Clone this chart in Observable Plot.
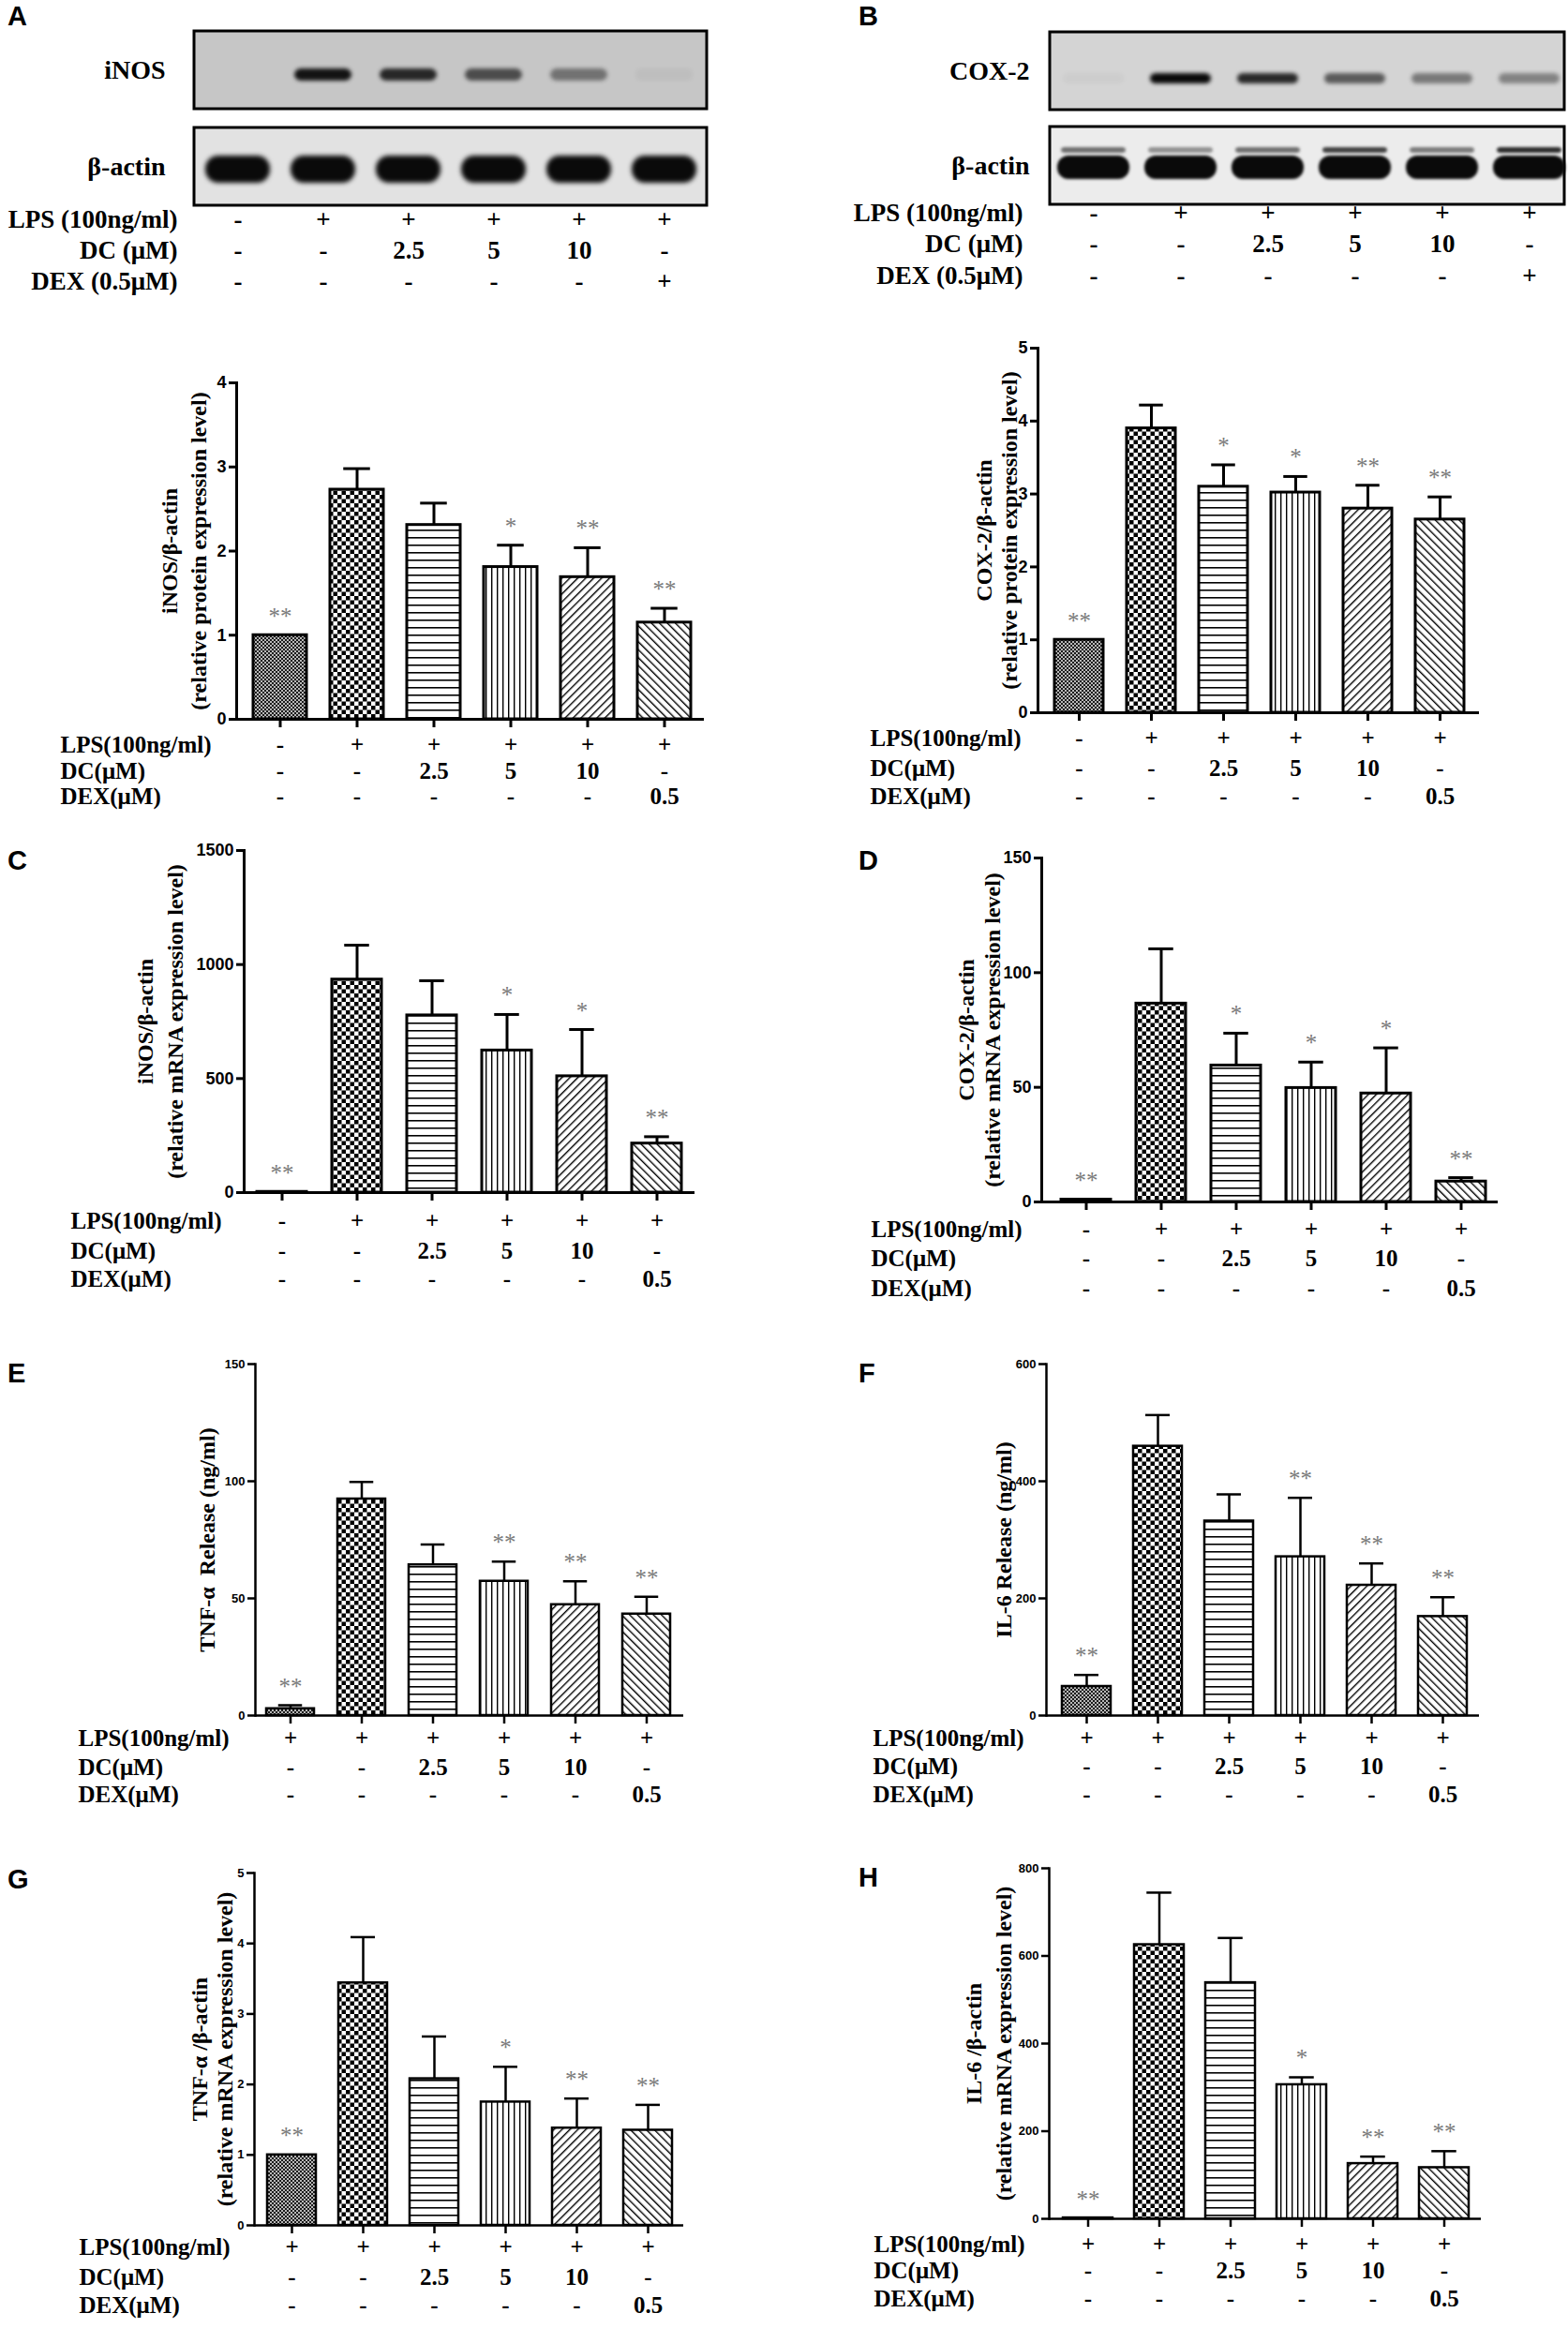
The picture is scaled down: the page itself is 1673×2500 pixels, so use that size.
<!DOCTYPE html>
<html><head><meta charset="utf-8">
<script src="https://cdn.jsdelivr.net/npm/d3@7"></script>
<script src="https://cdn.jsdelivr.net/npm/@observablehq/plot@0.6"></script>
<style>
body{margin:0;background:#fff;}
#fig{position:relative;width:1673px;height:2500px;background:#fff;overflow:hidden;}
#fig > div.panel{position:absolute;}
.lbl{position:absolute;font-family:"Liberation Sans",Arial,sans-serif;font-weight:bold;font-size:29px;line-height:29px;color:#000;}
</style></head><body>
<svg width="0" height="0" style="position:absolute">
<defs>
<pattern id="p1" width="4" height="4" patternUnits="userSpaceOnUse"><rect width="4" height="4" fill="#b8b8b8"/><rect width="2" height="2" fill="#1a1a1a"/><rect x="2" y="2" width="2" height="2" fill="#1a1a1a"/></pattern>
<pattern id="p2" width="9" height="9" patternUnits="userSpaceOnUse"><rect width="9" height="9" fill="#fff"/><rect width="4.5" height="4.5" fill="#000"/><rect x="4.5" y="4.5" width="4.5" height="4.5" fill="#000"/></pattern>
<pattern id="p3" width="8" height="8" patternUnits="userSpaceOnUse"><rect width="8" height="8" fill="#fff"/><rect y="3" width="8" height="1.6" fill="#000"/></pattern>
<pattern id="p4" width="6" height="6" patternUnits="userSpaceOnUse"><rect width="6" height="6" fill="#fff"/><rect x="2" width="1.4" height="6" fill="#000"/></pattern>
<pattern id="p5" width="6" height="6" patternUnits="userSpaceOnUse" patternTransform="rotate(45)"><rect width="6" height="6" fill="#fff"/><rect x="2" width="1.4" height="6" fill="#000"/></pattern>
<pattern id="p6" width="6" height="6" patternUnits="userSpaceOnUse" patternTransform="rotate(-45)"><rect width="6" height="6" fill="#fff"/><rect x="2" width="1.4" height="6" fill="#000"/></pattern>
</defs></svg>
<div id="fig"></div>
<script>
// ---------------- DATA ----------------
const groups = ["Control","LPS","LPS+DC 2.5","LPS+DC 5","LPS+DC 10","LPS+DEX 0.5"];

// treatment rows (tick labels under each bar)
const rowLPSprotein = ["-","+","+","+","+","+"];
const rowLPSrelease = ["+","+","+","+","+","+"];
const rowDC = ["-","-","2.5","5","10","-"];
const rowDEX = ["-","-","-","-","-","0.5"];
const rowDEXblot = ["-","-","-","-","-","+"];

// western blot band intensities (0..1)
const iNOSBand = [0.0, 0.95, 0.85, 0.65, 0.45, 0.04];
const actinBandA = [1, 1, 1, 1, 1, 1];
const cox2Band = [0.03, 1.0, 0.85, 0.6, 0.45, 0.4];
const actinBandB = [1, 1, 1, 1, 1, 1];
const actinUpperB = [0.55, 0.4, 0.55, 0.75, 0.5, 0.85];

// A iNOS protein
const iNOSProtein = [1.00, 2.73, 2.31, 1.81, 1.69, 1.15];
const iNOSProteinErr = [1.00, 2.98, 2.57, 2.07, 2.04, 1.32];
const iNOSProteinStars = ["**","","","*","**","**"];
// B COX-2 protein
const cox2Protein = [1.00, 3.90, 3.10, 3.02, 2.80, 2.65];
const cox2ProteinErr = [1.00, 4.22, 3.40, 3.24, 3.12, 2.96];
const cox2ProteinStars = ["**","","*","*","**","**"];
// C iNOS mRNA
const iNOSmRNA = [3, 934, 777, 623, 510, 215];
const iNOSmRNAErr = [3, 1085, 929, 781, 715, 245];
const iNOSmRNAStars = ["**","","","*","*","**"];
// D COX-2 mRNA
const cox2mRNA = [1, 86.5, 59.5, 49.7, 47.3, 8.9];
const cox2mRNAErr = [1, 110.4, 73.6, 61.0, 67.2, 10.6];
const cox2mRNAStars = ["**","","*","*","*","**"];
// E TNF-α release
const tnfRelease = [2.9, 92.4, 64.3, 57.3, 47.3, 43.3];
const tnfReleaseErr = [4.4, 99.7, 73.0, 65.7, 57.3, 50.7];
const tnfReleaseStars = ["**","","","**","**","**"];
// F IL-6 release
const il6Release = [49.6, 459.7, 332, 271, 222.4, 169];
const il6ReleaseErr = [69.3, 513, 377.6, 371.7, 259.7, 202];
const il6ReleaseStars = ["**","","","**","**","**"];
// G TNF-α mRNA
const tnfmRNA = [1.00, 3.44, 2.08, 1.75, 1.38, 1.35];
const tnfmRNAErr = [1.00, 4.09, 2.68, 2.25, 1.80, 1.71];
const tnfmRNAStars = ["**","","","*","**","**"];
// H IL-6 mRNA
const il6mRNA = [2, 625.6, 538.8, 306, 126, 116.7];
const il6mRNAErr = [2, 744.5, 641, 323, 142, 154.4];
const il6mRNAStars = ["**","","","*","**","**"];

// y-axis ticks
const ticksA = [0,1,2,3,4];
const ticksB = [0,1,2,3,4,5];
const ticksC = [0,500,1000,1500];
const ticksD = [0,50,100,150];
const ticksE = [0,50,100,150];
const ticksF = [0,200,400,600];
const ticksG = [0,1,2,3,4,5];
const ticksH = [0,200,400,600,800];

// ---------------- STYLE / LAYOUT ----------------
const SERIF = "Liberation Serif, Times New Roman, serif";
const SANS = "Liberation Sans, Arial, sans-serif";
const PATTERNS = ["url(#p1)","url(#p2)","url(#p3)","url(#p4)","url(#p5)","url(#p6)"];

const LAYOUT = {
 A:{ox:0,oy:330,w:836,h:550,axisX:252,xEnd:751,yTop:408,yZero:767,c0:298,step:82.2,bw:57,rows:[802,830,857],labelLeft:64,titles:[181,212],tickFont:18,sw:3},
 B:{ox:836,oy:330,w:837,h:550,axisX:1107,xEnd:1578,yTop:371,yZero:760,c0:1149,step:77.8,bw:53,rows:[795,827,857],labelLeft:928,titles:[1050,1077],tickFont:18,sw:3},
 C:{ox:0,oy:880,w:836,h:540,axisX:260,xEnd:741,yTop:907,yZero:1272,c0:300,step:80,bw:53,rows:[1310,1342,1372],labelLeft:75,titles:[155,187],tickFont:18,sw:3},
 D:{ox:836,oy:880,w:837,h:540,axisX:1111,xEnd:1598,yTop:915,yZero:1282,c0:1158,step:80,bw:53,rows:[1319,1350,1382],labelLeft:929,titles:[1031,1059],tickFont:18,sw:3},
 E:{ox:0,oy:1420,w:836,h:540,axisX:272,xEnd:729,yTop:1455,yZero:1830,c0:308,step:76.7,bw:51,rows:[1862,1893,1922],labelLeft:83,titles:[221],tickFont:13,sw:2.5},
 F:{ox:836,oy:1420,w:837,h:540,axisX:1116,xEnd:1578,yTop:1455,yZero:1830,c0:1158,step:76.2,bw:52,rows:[1862,1892,1922],labelLeft:931,titles:[1071],tickFont:13,sw:2.5},
 G:{ox:0,oy:1960,w:836,h:540,axisX:271,xEnd:729,yTop:1998,yZero:2374,c0:309,step:76.6,bw:52,rows:[2405,2437,2467],labelLeft:84,titles:[213,240],tickFont:13,sw:2.5},
 H:{ox:836,oy:1960,w:837,h:540,axisX:1119,xEnd:1580,yTop:1993,yZero:2367,c0:1159,step:76.4,bw:53,rows:[2402,2430,2460],labelLeft:932,titles:[1039,1071],tickFont:13,sw:2.5}
};

const fig = document.getElementById("fig");
function place(node, ox, oy){
  const d = document.createElement("div");
  d.className = "panel";
  d.style.left = ox + "px"; d.style.top = oy + "px";
  d.appendChild(node); fig.appendChild(d);
}

function chart(L, vals, errs, stars, lpsRow, titleLines, ticks, yMax){
  const ox=L.ox, oy=L.oy, W=L.w, H=L.h, step=L.step, bw=L.bw, p=1-bw/step, sw=L.sw;
  const data = groups.map((g,i)=>({g, v: vals[i], e: errs[i], s: stars[i], pat: PATTERNS[i], top: Math.max(vals[i], errs[i])}));
  const withErr = data.filter(d=>d.e>d.v);
  const rowsVals = [lpsRow, rowDC, rowDEX];
  const rowLabels = ["LPS(100ng/ml)","DC(μM)","DEX(μM)"];
  const marks = [
    Plot.barY(data,{x:"g",y:"v",fill:"pat",stroke:"black",strokeWidth:sw}),
    Plot.ruleX(withErr,{x:"g",y1:"v",y2:"e",strokeWidth:sw,stroke:"black"}),
    Plot.tickY(withErr,{x:"g",y:"e",strokeWidth:sw,stroke:"black",insetLeft:bw/4,insetRight:bw/4}),
    Plot.text(data,{x:"g",y:"top",text:"s",dy:-20,fill:"#7a7a7a",fontSize:25,fontFamily:SERIF}),
    Plot.ruleY([0],{strokeWidth:sw,stroke:"black"}),
    Plot.frame({anchor:"left",strokeWidth:sw,stroke:"black"}),
    Plot.axisY({ticks, tickSize:8, tickPadding:3, fontSize:L.tickFont, fontWeight:"bold", fontFamily:SANS, strokeWidth:sw, label:null, tickFormat:d=>String(d)}),
    Plot.axisX({tickSize:9, tickFormat:()=>"", strokeWidth:sw, label:null})
  ];
  rowsVals.forEach((r,k)=>{
    marks.push(Plot.text(r,{x:groups,text:d=>d,frameAnchor:"bottom",dy:L.rows[k]-L.yZero,fontSize:25,fontWeight:"bold",fontFamily:SERIF}));
    marks.push(Plot.text([rowLabels[k]],{frameAnchor:"bottom-left",textAnchor:"start",dx:L.labelLeft-L.axisX,dy:L.rows[k]-L.yZero,fontSize:25,fontWeight:"bold",fontFamily:SERIF}));
  });
  titleLines.forEach((t,k)=>{
    marks.push(Plot.text([t],{frameAnchor:"left",textAnchor:"middle",lineAnchor:"middle",rotate:-90,dx:L.titles[k]-L.axisX,fontSize:24,fontWeight:"bold",fontFamily:SERIF}));
  });
  const svg = Plot.plot({
    width:W, height:H,
    marginLeft:L.axisX-ox, marginRight:ox+W-L.xEnd, marginTop:L.yTop-oy, marginBottom:oy+H-L.yZero,
    x:{type:"band",domain:groups,range:[L.c0-step/2-ox, L.c0+5.5*step-ox],paddingInner:p,paddingOuter:p/2,axis:null},
    y:{domain:[0,yMax],axis:null},
    color:{type:"identity"},
    style:{background:"transparent",overflow:"visible",color:"black"},
    marks
  });
  place(svg, ox, oy);
}

function blot(L, proteins, boxFills, layers, rowVals, rowLabels){
  const ox=L.ox, oy=L.oy;
  const marks = [
    Plot.cell(proteins,{y:d=>d,fill:boxFills,stroke:"black",strokeWidth:3})
  ];
  layers.forEach(ly=>{
    marks.push(Plot.cell(groups.map((g,i)=>({g,a:ly.values[i]})),{x:"g",y:()=>ly.protein,fill:"#0a0a0a",fillOpacity:"a",insetLeft:ly.inX,insetRight:ly.inX,insetTop:ly.inT,insetBottom:ly.inB,rx:ly.rx,imageFilter:`blur(${ly.blur}px)`}));
  });
  marks.push(Plot.text(proteins,{y:d=>d,frameAnchor:"left",textAnchor:"end",dx:L.labelRight-L.boxL,fontSize:28,fontWeight:"bold",fontFamily:SERIF}));
  rowVals.forEach((r,k)=>{
    marks.push(Plot.text(r,{x:groups,text:d=>d,frameAnchor:"bottom",dy:L.rows[k]-L.boxB,fontSize:27,fontWeight:"bold",fontFamily:SERIF}));
    marks.push(Plot.text([rowLabels[k]],{frameAnchor:"bottom-left",textAnchor:"end",dx:L.rowLabelRight-L.boxL,dy:L.rows[k]-L.boxB,fontSize:27,fontWeight:"bold",fontFamily:SERIF}));
  });
  const svg = Plot.plot({
    width:L.w, height:L.h,
    marginLeft:L.boxL-ox, marginRight:ox+L.w-L.boxR, marginTop:L.boxT-oy, marginBottom:oy+L.h-L.boxB,
    x:{type:"band",domain:groups,range:[L.laneStart-ox,L.laneEnd-ox],padding:0,axis:null},
    y:{type:"band",domain:proteins,range:[L.boxT-oy,L.boxB-oy],paddingInner:L.gap,paddingOuter:0,axis:null},
    color:{type:"identity"},
    opacity:{type:"identity"},
    style:{background:"transparent",overflow:"visible",color:"black"},
    marks
  });
  place(svg, ox, oy);
}

// ---------------- BLOTS ----------------
blot({ox:0,oy:0,w:836,h:330,boxL:207,boxR:754,boxT:32,boxB:220,laneStart:207,laneEnd:754,gap:0.19,labelRight:176,rows:[242,275,308],rowLabelRight:189},
  ["iNOS","β-actin"], ["#c6c6c6","#e2e2e2"],
  [{protein:"iNOS",values:iNOSBand,inX:15,inT:40,inB:30,rx:7,blur:2},
   {protein:"β-actin",values:actinBandA,inX:11,inT:30,inB:24,rx:14,blur:2.5}],
  [rowLPSprotein,rowDC,rowDEXblot], ["LPS (100ng/ml)","DC (μM)","DEX (0.5μM)"]);

blot({ox:836,oy:0,w:837,h:330,boxL:1120,boxR:1669,boxT:34,boxB:218,laneStart:1117,laneEnd:1680,gap:0.18,labelRight:1098,rows:[235,268,302],rowLabelRight:1091},
  ["COX-2","β-actin"], ["#d4d4d4","#ececec"],
  [{protein:"COX-2",values:cox2Band,inX:14,inT:44,inB:28,rx:6,blur:2},
   {protein:"β-actin",values:actinUpperB,inX:12,inT:22,inB:55,rx:4,blur:1.5},
   {protein:"β-actin",values:actinBandB,inX:8,inT:31,inB:27,rx:12,blur:1.5}],
  [rowLPSprotein,rowDC,rowDEXblot], ["LPS (100ng/ml)","DC (μM)","DEX (0.5μM)"]);

// ---------------- CHARTS ----------------
chart(LAYOUT.A, iNOSProtein, iNOSProteinErr, iNOSProteinStars, rowLPSprotein, ["iNOS/β-actin","(relative protein expression level)"], ticksA, 4);
chart(LAYOUT.B, cox2Protein, cox2ProteinErr, cox2ProteinStars, rowLPSprotein, ["COX-2/β-actin","(relative protein expression level)"], ticksB, 5);
chart(LAYOUT.C, iNOSmRNA, iNOSmRNAErr, iNOSmRNAStars, rowLPSprotein, ["iNOS/β-actin","(relative mRNA expression level)"], ticksC, 1500);
chart(LAYOUT.D, cox2mRNA, cox2mRNAErr, cox2mRNAStars, rowLPSprotein, ["COX-2/β-actin","(relative mRNA expression level)"], ticksD, 150);
chart(LAYOUT.E, tnfRelease, tnfReleaseErr, tnfReleaseStars, rowLPSrelease, ["TNF-α  Release (ng/ml)"], ticksE, 150);
chart(LAYOUT.F, il6Release, il6ReleaseErr, il6ReleaseStars, rowLPSrelease, ["IL-6 Release (ng/ml)"], ticksF, 600);
chart(LAYOUT.G, tnfmRNA, tnfmRNAErr, tnfmRNAStars, rowLPSrelease, ["TNF-α /β-actin","(relative mRNA expression level)"], ticksG, 5);
chart(LAYOUT.H, il6mRNA, il6mRNAErr, il6mRNAStars, rowLPSrelease, ["IL-6 /β-actin","(relative mRNA expression level)"], ticksH, 800);

// ---------------- PANEL LETTERS ----------------
[["A",8,7],["B",916,7],["C",8,908],["D",916,908],["E",8,1455],["F",916,1455],["G",8,1995],["H",916,1993]].forEach(([t,x,y])=>{
  const d=document.createElement("div"); d.className="lbl"; d.textContent=t;
  d.style.left=x+"px"; d.style.top=(y-4)+"px"; fig.appendChild(d);
});
</script>
</body></html>
